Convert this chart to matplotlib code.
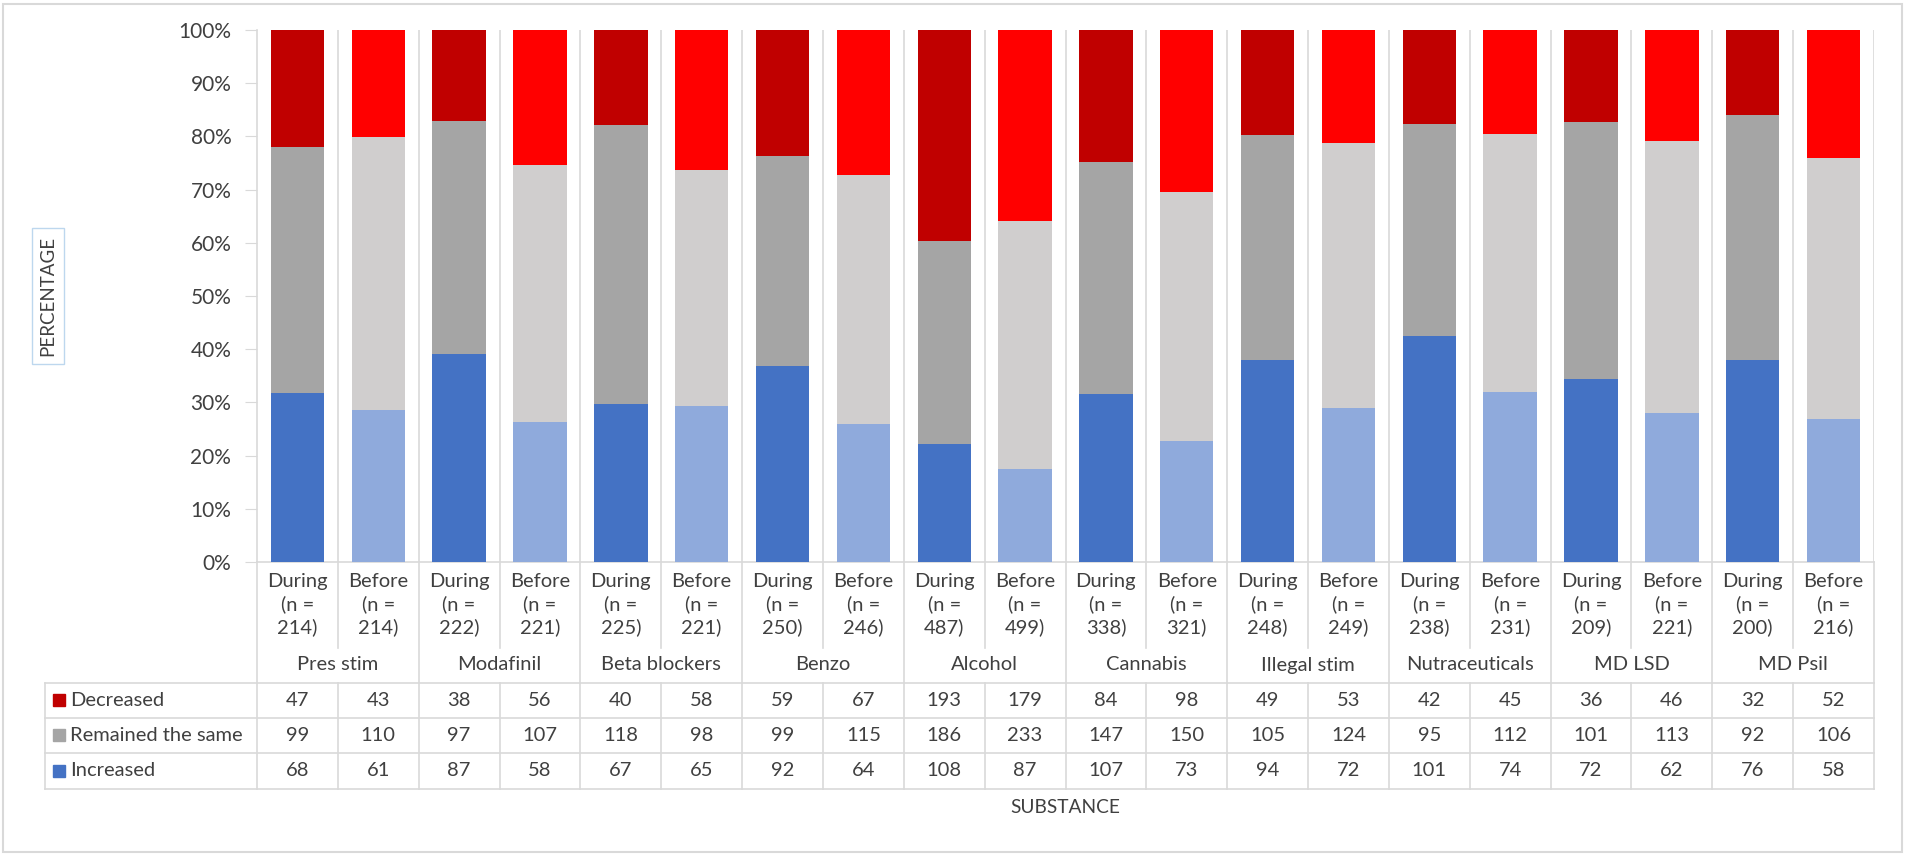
import matplotlib
matplotlib.use("Agg")
import matplotlib.pyplot as plt
import numpy as np

plt.rcParams["font.family"] = ["Lato", "DejaVu Sans"]

# ── Data (counts)
substances = ["Pres stim", "Modafinil", "Beta blockers", "Benzo", "Alcohol",
              "Cannabis", "Illegal stim", "Nutraceuticals", "MD LSD", "MD Psil"]
phases = ["During", "Before"]
decreased = [47, 43, 38, 56, 40, 58, 59, 67, 193, 179, 84, 98, 49, 53, 42, 45, 36, 46, 32, 52]
remained  = [99, 110, 97, 107, 118, 98, 99, 115, 186, 233, 147, 150, 105, 124, 95, 112, 101, 113, 92, 106]
increased = [68, 61, 87, 58, 67, 65, 92, 64, 108, 87, 107, 73, 94, 72, 101, 74, 72, 62, 76, 58]
row_names = ["Decreased", "Remained the same", "Increased"]

dec = np.array(decreased); rem = np.array(remained); inc = np.array(increased)
tot = dec + rem + inc
p_inc = inc / tot; p_rem = rem / tot; p_dec = dec / tot
n_cols = len(tot)
x = np.arange(n_cols)

# colours: During (dark) / Before (light)
col_inc = ["#4472C4", "#8FAADC"]
col_rem = ["#A5A5A5", "#D0CECE"]
col_dec = ["#C00000", "#FF0000"]
txt = "#404040"
grid = "#D9D9D9"
fs = 14.5

W, H = 1906, 855
fig = plt.figure(figsize=(W / 100, H / 100), dpi=100)
L, R, T, B = 257, 1874, 30, 562
ax = fig.add_axes([L / W, 1 - B / H, (R - L) / W, (B - T) / H])

ph = np.arange(n_cols) % 2
ax.bar(x, p_inc, width=0.66, color=[col_inc[p] for p in ph], zorder=3)
ax.bar(x, p_rem, bottom=p_inc, width=0.66, color=[col_rem[p] for p in ph], zorder=3)
ax.bar(x, p_dec, bottom=p_inc + p_rem, width=0.66, color=[col_dec[p] for p in ph], zorder=3)

ax.set_xlim(-0.5, n_cols - 0.5)
ax.set_ylim(0, 1)
ax.set_yticks(np.arange(0, 1.01, 0.1))
ax.set_yticklabels([f"{int(round(v * 100))}%" for v in np.arange(0, 1.01, 0.1)])
ax.tick_params(axis="y", length=9, color=grid, labelsize=15, labelcolor=txt, pad=9.5)
ax.set_xticks([])
for s in ["top", "right"]:
    ax.spines[s].set_visible(False)
for s in ["left", "bottom"]:
    ax.spines[s].set_color(grid)
    ax.spines[s].set_linewidth(1.2)

# vertical separators between columns in plot
for i in range(1, n_cols + 1):
    ax.axvline(i - 0.5, color=grid, lw=1.2, zorder=1)

# helper: pixel -> axes fraction
def ay(yp):
    return (B - yp) / (B - T)

def axx(xp):
    return (xp - L) / (R - L)

lk = dict(transform=ax.transAxes, clip_on=False, color=grid, lw=1.2)

# category labels under axis
for i in range(n_cols):
    xc = (i + 0.5) / n_cols
    ax.text(xc, ay(605), f"{phases[i % 2]}\n(n =\n{tot[i]})", transform=ax.transAxes,
            ha="center", va="center", fontsize=fs, color=txt, linespacing=1.35)
for g, name in enumerate(substances):
    ax.text((2 * g + 1) / n_cols, ay(665), name, transform=ax.transAxes,
            ha="center", va="center", fontsize=fs, color=txt)

# separators below the axis
for i in range(0, n_cols + 1):
    xf = i / n_cols
    if i % 2 == 1:
        ax.plot([xf, xf], [ay(B), ay(648)], **lk)
    else:
        ax.plot([xf, xf], [ay(B), ay(683)], **lk)

# data table
rows_y = [683, 718, 753, 789]
for yp in rows_y:
    ax.plot([axx(45), 1], [ay(yp), ay(yp)], **lk)
for i in range(0, n_cols + 1):
    ax.plot([i / n_cols] * 2, [ay(683), ay(789)], **lk)
ax.plot([axx(45)] * 2, [ay(683), ay(789)], **lk)

row_vals = [dec, rem, inc]
row_cols = [col_dec[0], col_rem[0], col_inc[0]]
for r in range(3):
    yc = ay((rows_y[r] + rows_y[r + 1]) / 2)
    ax.add_patch(plt.Rectangle((axx(53), yc - 6 / (B - T)), 12 / (R - L), 12 / (B - T),
                               transform=ax.transAxes, clip_on=False, color=row_cols[r]))
    ax.text(axx(70), yc, row_names[r], transform=ax.transAxes, ha="left", va="center",
            fontsize=fs, color=txt)
    for i in range(n_cols):
        ax.text((i + 0.5) / n_cols, yc, str(row_vals[r][i]), transform=ax.transAxes,
                ha="center", va="center", fontsize=fs, color=txt)

# axis titles
fig.text(1065 / W, 1 - 807 / H, "SUBSTANCE", ha="center", va="center", fontsize=13.8, color=txt)
fig.text(48 / W, 1 - 296 / H, "PERCENTAGE", ha="center", va="center", rotation=90,
         fontsize=13.5, color=txt,
         bbox=dict(boxstyle="square,pad=0.4", fc="white", ec="#BDD7EE", lw=1))

# outer border
fig.add_artist(plt.Rectangle((3 / W, 3 / H), (W - 7) / W, (H - 7) / H,
                             transform=fig.transFigure, fill=False, ec=grid, lw=1.5))

plt.savefig("out.png", dpi=100)
plt.close()
